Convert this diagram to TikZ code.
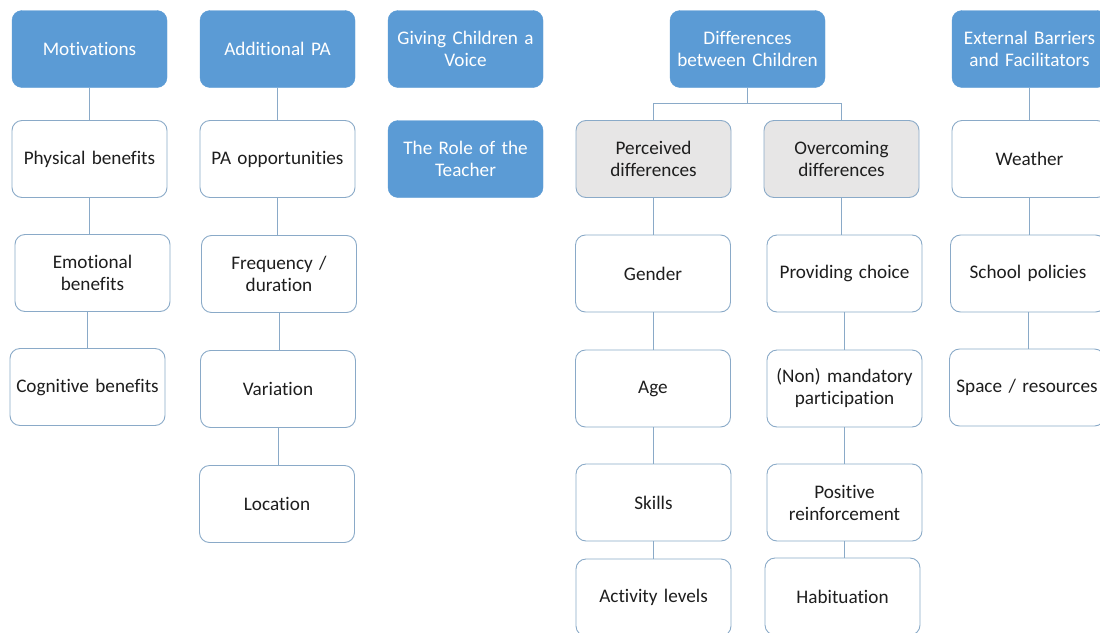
\documentclass[tikz,border=0pt]{standalone}
\usepackage{fontspec}
\setmainfont{Carlito}[Ligatures={NoCommon}]
\definecolor{hdrblue}{HTML}{5B9BD5}
\definecolor{edgeblue}{HTML}{8AAAC8}
\definecolor{lightgrey}{HTML}{E7E6E6}
\definecolor{inkdark}{HTML}{1E1E1E}
\tikzset{
  cell/.style={rounded corners=10pt, minimum width=155pt, minimum height=77pt,
    text width=152pt, align=center, inner sep=0pt,
    font=\fontsize{19.2}{22}\selectfont},
  header/.style={cell, fill=hdrblue, draw=hdrblue, text=white},
  item/.style={cell, fill=white, draw=edgeblue, line width=0.9pt, text=inkdark},
  subhead/.style={cell, fill=lightgrey, draw=edgeblue, line width=0.9pt, text=inkdark},
  link/.style={draw=edgeblue, line width=1pt}
}
\begin{document}
\begin{tikzpicture}[x=1pt,y=-1pt]
\useasboundingbox (0,0) rectangle (1100,632);
\fill[white] (0,0) rectangle (1100,632);

% column 1: motivations
\node[header] (mot) at (89.5,49) {Motivations};
\node[item] (phys) at (89.5,159) {Physical benefits};
\node[item] (emo) at (92.5,273) {Emotional\\benefits};
\node[item] (cog) at (87.5,387) {Cognitive benefits};

% column 2: additional PA
\node[header] (apa) at (277.5,49) {Additional PA};
\node[item] (opp) at (277.5,159) {PA opportunities};
\node[item] (freq) at (279,274) {Frequency /\\duration};
\node[item] (vari) at (278,389) {Variation};
\node[item] (loc) at (277,504) {Location};

% column 3: stand-alone themes
\node[header] (voice) at (465.5,49) {Giving Children a\\Voice};
\node[header] (teach) at (465.5,159) {The Role of the\\Teacher};

% column 4: differences between children
\node[header] (diff) at (747.5,49) {Differences\\between Children};
\node[subhead] (perc) at (653.5,159) {Perceived\\differences};
\node[subhead] (over) at (841.5,159) {Overcoming\\differences};
\node[item] (gen) at (653,273.5) {Gender};
\node[item] (age) at (653,388.5) {Age};
\node[item] (ski) at (653.5,502.5) {Skills};
\node[item] (act) at (653.5,597.5) {Activity levels};
\node[item] (choice) at (844.5,273.5) {Providing choice};
\node[item] (mand) at (844.5,388.5) {(Non) mandatory\\participation};
\node[item] (pos) at (844.5,502.5) {Positive\\reinforcement};
\node[item] (hab) at (842.5,596.5) {Habituation};

% column 5: external barriers and facilitators
\node[header] (ext) at (1029.5,49) {External Barriers\\and Facilitators};
\node[item] (wea) at (1029.5,159) {Weather};
\node[item] (pol) at (1028,273.5) {School policies};
\node[item] (spa) at (1027,387.5) {Space / resources};

% connectors
\path[link] (mot.south) -- (mot.south |- phys.north);
\path[link] (phys.south) -- (phys.south |- emo.north);
\path[link] (emo.south -| cog.north) -- (cog.north);
\path[link] (apa.south) -- (apa.south |- opp.north);
\path[link] (opp.south) -- (opp.south |- freq.north);
\path[link] (freq.south) -- (freq.south |- vari.north);
\path[link] (vari.south) -- (vari.south |- loc.north);
\path[link] (diff.south) -- ++(0,16) -| (perc.north);
\path[link] (diff.south) -- ++(0,16) -| (over.north);
\path[link] (perc.south) -- (perc.south |- gen.north);
\path[link] (gen.south) -- (gen.south |- age.north);
\path[link] (age.south) -- (age.south |- ski.north);
\path[link] (ski.south) -- (ski.south |- act.north);
\path[link] (over.south) -- (over.south |- choice.north);
\path[link] (choice.south) -- (choice.south |- mand.north);
\path[link] (mand.south) -- (mand.south |- pos.north);
\path[link] (pos.south) -- (pos.south |- hab.north);
\path[link] (ext.south) -- (ext.south |- wea.north);
\path[link] (wea.south) -- (wea.south |- pol.north);
\path[link] (pol.south) -- (pol.south |- spa.north);
\end{tikzpicture}
\end{document}
